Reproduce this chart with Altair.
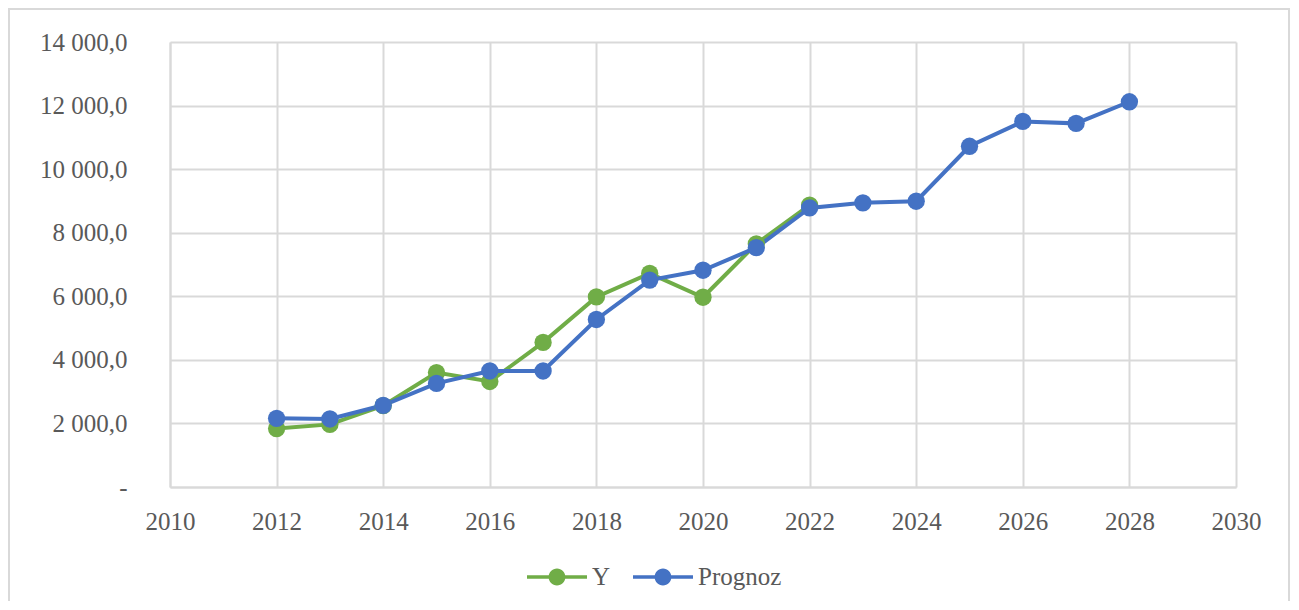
import altair as alt
import pandas as pd

years_y = [2012, 2013, 2014, 2015, 2016, 2017, 2018, 2019, 2020, 2021, 2022]
y_vals = [1840, 1970, 2560, 3600, 3320, 4550, 5980, 6720, 5970, 7650, 8870]
years_p = [2012, 2013, 2014, 2015, 2016, 2017, 2018, 2019, 2020, 2021, 2022,
           2023, 2024, 2025, 2026, 2027, 2028]
prognoz = [2160, 2140, 2570, 3260, 3650, 3650, 5270, 6510, 6820, 7530, 8780,
           8940, 8990, 10720, 11500, 11440, 12120]
series = ["Y", "Prognoz"]
colors = ["#70AD47", "#4472C4"]
x_ticks = list(range(2010, 2031, 2))
y_ticks = list(range(0, 14001, 2000))

df = pd.concat([
    pd.DataFrame({"year": years_y, "value": y_vals, "series": "Y"}),
    pd.DataFrame({"year": years_p, "value": prognoz, "series": "Prognoz"}),
], ignore_index=True)

FONT = "Liberation Serif"
GRAY = "#595959"
GRID = "#d9d9d9"

legend_path = ("M-1,-0.06L1,-0.06L1,0.06L-1,0.06Z "
               "M0.28,0A0.28,0.28,0,1,1,-0.28,0A0.28,0.28,0,1,1,0.28,0Z")

x = alt.X("year:Q", scale=alt.Scale(domain=[2010, 2030], nice=False, zero=False),
          axis=alt.Axis(values=x_ticks, format="d", title=None, ticks=False,
                        labelPadding=22, labelFlush=False))
y = alt.Y("value:Q", scale=alt.Scale(domain=[0, 14000], nice=False),
          axis=alt.Axis(values=y_ticks, title=None, ticks=False, labelPadding=43,
                        labelExpr="datum.value == 0 ? '-\u00a0\u00a0\u00a0\u00a0' : replace(replace(format(datum.value, ',.1f'), ',', ' '), '.', ',')"))
color_scale = alt.Scale(domain=series, range=colors)
legend = alt.Legend(title=None, orient="none", direction="horizontal",
                    legendX=357, legendY=505,
                    symbolType=legend_path, symbolSize=3600,
                    symbolStrokeWidth=0, symbolOpacity=1,
                    labelFont=FONT, labelFontSize=25,
                    labelColor=GRAY, labelOffset=5,
                    columnPadding=22)

lines = alt.Chart(df).mark_line(strokeWidth=4).encode(
    x=x, y=y,
    color=alt.Color("series:N", scale=color_scale, sort=series, legend=legend),
    detail="series:N",
)
points = alt.Chart(df).mark_point(filled=True, size=300, opacity=1).encode(
    x=x, y=y,
    color=alt.Color("series:N", scale=color_scale, sort=series, legend=legend),
)

border = alt.Chart(pd.DataFrame({"a": [0]})).mark_rect(
    fill=None, stroke=GRID, strokeWidth=2
).encode(x=alt.value(-161), x2=alt.value(1119), y=alt.value(-33), y2=alt.value(575))

chart = alt.layer(border, lines, points).properties(
    width=1066, height=445,
    autosize=alt.AutoSizeParams(type="none"),
    padding={"left": 162, "top": 34, "right": 54, "bottom": 114},
).configure_view(stroke=None).configure_axis(
    labelFont=FONT, labelFontSize=25, labelColor=GRAY,
    gridColor=GRID, gridWidth=2, domainColor=GRID, domainWidth=2,
)

chart.save("out.html", embed_options={"renderer": "svg", "actions": False})
